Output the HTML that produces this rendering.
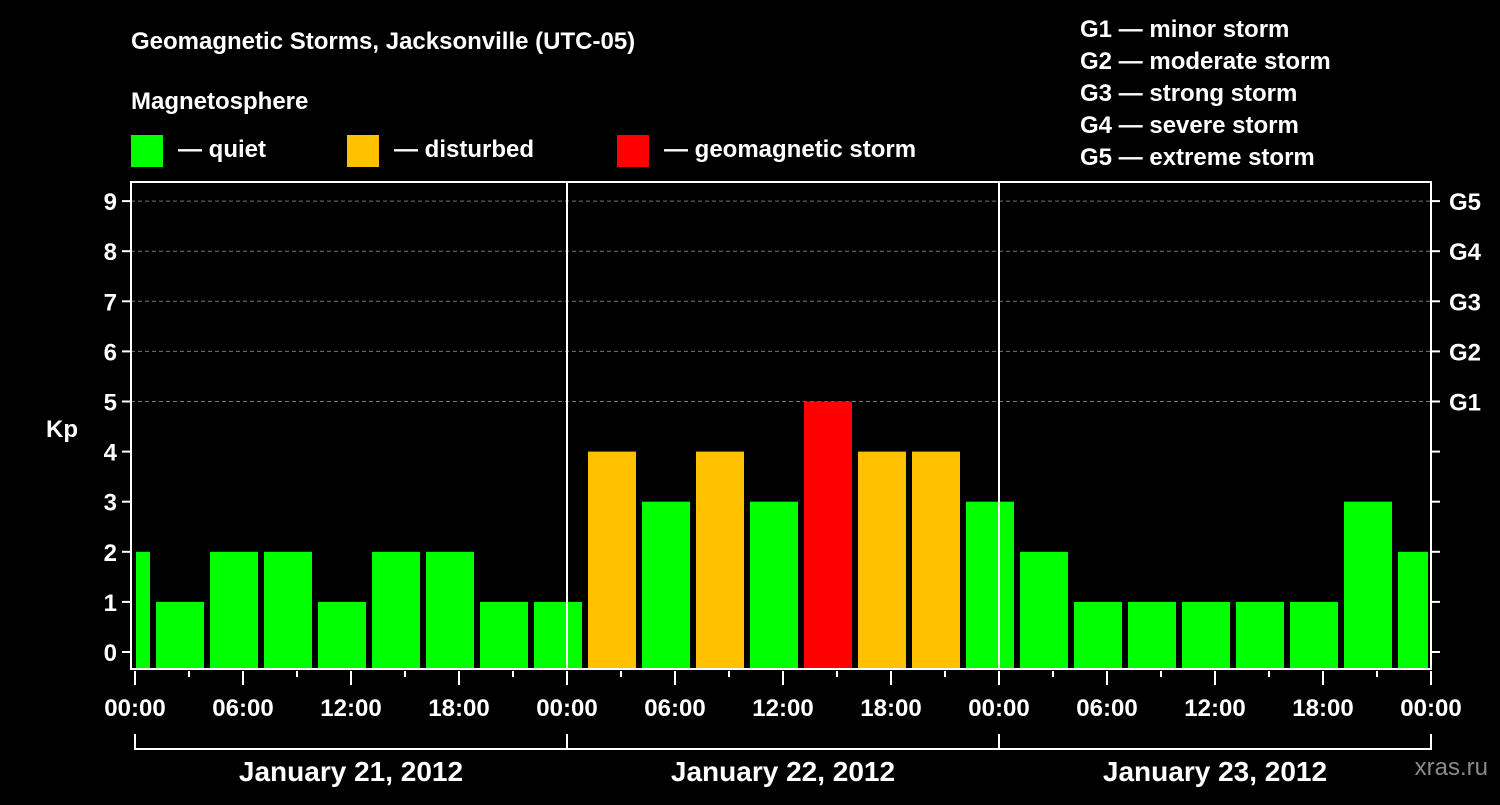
<!DOCTYPE html>
<html><head><meta charset="utf-8"><style>
body{margin:0;background:#000;width:1500px;height:800px;overflow:hidden}
svg text{font-family:"Liberation Sans",Arial,sans-serif;font-weight:bold;fill:#fff}
</style></head><body>
<svg id="chart" width="1500" height="800" xmlns="http://www.w3.org/2000/svg">
<rect width="1500" height="800" fill="#000"/>
<text x="131" y="49" font-size="24">Geomagnetic Storms, Jacksonville (UTC-05)</text>
<text x="131" y="109" font-size="24">Magnetosphere</text>
<g><rect x="131" y="135" width="32" height="32" fill="#00ff00"/><text x="178" y="157" font-size="24">— quiet</text></g>
<g><rect x="347" y="135" width="32" height="32" fill="#ffc000"/><text x="394" y="157" font-size="24">— disturbed</text></g>
<g><rect x="617" y="135" width="32" height="32" fill="#ff0000"/><text x="664" y="157" font-size="24">— geomagnetic storm</text></g>
<g font-size="24">
<text x="1080" y="37">G1 — minor storm</text>
<text x="1080" y="69">G2 — moderate storm</text>
<text x="1080" y="101">G3 — strong storm</text>
<text x="1080" y="133">G4 — severe storm</text>
<text x="1080" y="165">G5 — extreme storm</text>
</g>
<text x="62" y="437" font-size="24" text-anchor="middle">Kp</text>
<text x="1488" y="775" font-size="24" text-anchor="end" fill="#888" style="fill:#8a8a8a;font-weight:normal">xras.ru</text>
<g id="grid"></g><g id="bars"></g><g id="axes"></g>
</svg>
<script>
const kpValues=[2,1,2,2,1,2,2,1,1,4,3,4,3,5,4,4,3,2,1,1,1,1,1,3,2];
const barHours=[-0.5,2.5,5.5,8.5,11.5,14.5,17.5,20.5,23.5,26.5,29.5,32.5,35.5,38.5,41.5,44.5,47.5,50.5,53.5,56.5,59.5,62.5,65.5,68.5,71.5];
const yTicks=[0,1,2,3,4,5,6,7,8,9];
const gLabels=["G1","G2","G3","G4","G5"];
const xTickLabels=["00:00","06:00","12:00","18:00","00:00","06:00","12:00","18:00","00:00","06:00","12:00","18:00","00:00"];
const dayLabels=["January 21, 2012","January 22, 2012","January 23, 2012"];
const NS="http://www.w3.org/2000/svg";
const L=131,R=1431,T=182,B=669;
const x=h=>135+h*18;
const y=v=>652-v*50.1;
function mk(tag,attrs,parent){const e=document.createElementNS(NS,tag);for(const k in attrs)e.setAttribute(k,attrs[k]);parent.appendChild(e);return e;}
const grid=document.getElementById('grid'),bars=document.getElementById('bars'),axes=document.getElementById('axes');
yTicks.forEach(v=>{
 if(v>=5){const g=mk('line',{x1:L,x2:R,y1:y(v),y2:y(v),stroke:'#777','stroke-dasharray':'4,3','stroke-width':1},grid);
 
 }
 const t=mk('line',{x1:L-9,x2:L,y1:y(v),y2:y(v),stroke:'#fff','stroke-width':2},axes);
 
 
 const t2=mk('line',{x1:R,x2:R+9,y1:y(v),y2:y(v),stroke:'#fff','stroke-width':2},axes);
 
 
 const lb=mk('text',{x:L-14,y:y(v)+9,'font-size':24,'text-anchor':'end'},axes);lb.textContent=v;
 
 
});
gLabels.forEach((g,i)=>{const lb=mk('text',{x:1449,y:y(5+i)+9,'font-size':24},axes);lb.textContent=g;
 
 });
kpValues.forEach((v,i)=>{
 let x0=x(barHours[i])-24,x1=x(barHours[i])+24;
 x0=Math.max(x0,L+5);x1=Math.min(x1,R-3);
 const c=v>=5?'#ff0000':(v>=4?'#ffc000':'#00ff00');
 const b=mk('rect',{x:x0,y:y(v),width:x1-x0,height:B-1-y(v),fill:c},bars);
 
 
});
[24,48].forEach(h=>{const d=mk('line',{x1:x(h),x2:x(h),y1:T,y2:B,stroke:'#fff','stroke-width':2},axes);
 
 });
const fr=mk('rect',{x:L,y:T,width:R-L,height:B-T,fill:'none',stroke:'#fff','stroke-width':2},axes);


for(let h=0;h<=72;h+=3){const major=h%6==0;
 const t=mk('line',{x1:x(h),x2:x(h),y1:B+2,y2:B+(major?16:8),stroke:'#fff','stroke-width':2},axes);
 
 }
xTickLabels.forEach((s,i)=>{const lb=mk('text',{x:x(i*6),y:716,'font-size':24,'text-anchor':'middle'},axes);lb.textContent=s;
 
 });
const br=mk('path',{d:`M${x(0)},734V749H${x(72)}V734M${x(24)},734V749M${x(48)},734V749`,fill:'none',stroke:'#fff','stroke-width':2},axes);


dayLabels.forEach((s,i)=>{const lb=mk('text',{x:x(i*24+12),y:781,'font-size':28,'text-anchor':'middle'},axes);lb.textContent=s;
 
 });
</script>
</body></html>
